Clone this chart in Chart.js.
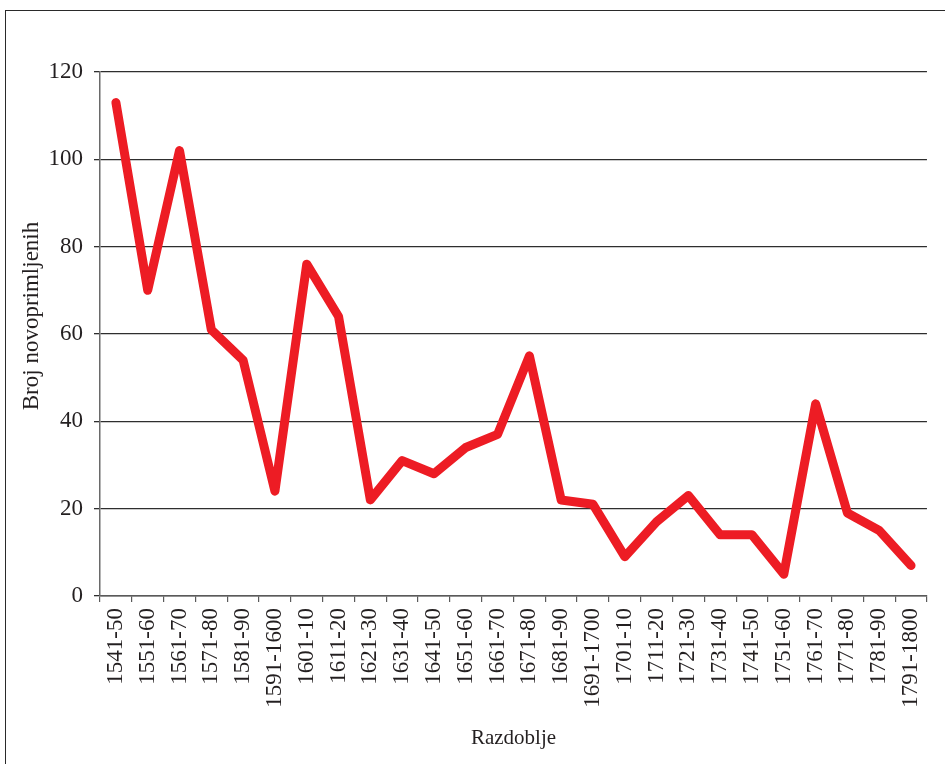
<!DOCTYPE html>
<html lang="hr">
<head>
<meta charset="utf-8">
<title>Broj novoprimljenih po razdobljima</title>
<script src="https://cdn.jsdelivr.net/npm/chart.js@4/dist/chart.umd.min.js"></script>
<style>
  html, body { margin: 0; padding: 0; background: #ffffff; overflow: hidden; }
  #wrap { position: relative; width: 945px; height: 764px; }
  #frame {
    position: absolute; left: 5px; top: 10px; width: 1000px; height: 1000px;
    border: 1.5px solid #2a2a2a; box-sizing: border-box; pointer-events: none;
  }
  canvas { position: absolute; left: 0; top: 0; }
</style>
</head>
<body>
<div id="wrap">
  <canvas id="chart" width="945" height="764"></canvas>
  <div id="frame"></div>
</div>
<script>
// Razdoblja (desetljeća)
const periods = [
  '1541-50', '1551-60', '1561-70', '1571-80', '1581-90', '1591-1600',
  '1601-10', '1611-20', '1621-30', '1631-40', '1641-50', '1651-60',
  '1661-70', '1671-80', '1681-90', '1691-1700', '1701-10', '1711-20',
  '1721-30', '1731-40', '1741-50', '1751-60', '1761-70', '1771-80',
  '1781-90', '1791-1800'
];

// Broj novoprimljenih u svakom razdoblju
const admitted = [
  113, 70, 102, 61, 54, 24,
  76, 64, 22, 31, 28, 34,
  37, 55, 22, 21, 9, 17,
  23, 14, 14, 5, 44, 19,
  15, 7
];

// Oznake osi
const yTicks = [0, 20, 40, 60, 80, 100, 120];
const yTitle = 'Broj novoprimljenih';
const xTitle = 'Razdoblje';

const serif = "'Liberation Serif', 'Times New Roman', serif";
const ink = '#231f20';

// Naslov okomite osi, malo iznad sredine osi
const yTitlePlugin = {
  id: 'yTitle',
  afterDraw(chart) {
    const s = chart.scales.y;
    const ctx = chart.ctx;
    ctx.save();
    ctx.translate(32, (s.top + s.bottom) / 2 - 18);
    ctx.rotate(-Math.PI / 2);
    ctx.font = `23px ${serif}`;
    ctx.fillStyle = ink;
    ctx.textAlign = 'center';
    ctx.textBaseline = 'middle';
    ctx.fillText(yTitle, 0, 0);
    ctx.restore();
  }
};

new Chart(document.getElementById('chart'), {
  type: 'line',
  data: {
    labels: periods,
    datasets: [{
      data: admitted,
      borderColor: '#ed1c24',
      backgroundColor: '#ed1c24',
      borderWidth: 9,
      borderJoinStyle: 'round',
      borderCapStyle: 'round',
      pointRadius: 0,
      pointHoverRadius: 0,
      tension: 0,
      fill: false
    }]
  },
  plugins: [yTitlePlugin],
  options: {
    responsive: false,
    devicePixelRatio: 1,
    animation: false,
    layout: { padding: { top: 72, right: 18, bottom: 0, left: 0 } },
    plugins: {
      legend: { display: false },
      tooltip: { enabled: false }
    },
    scales: {
      x: {
        offset: true,
        grid: {
          offset: true,
          drawOnChartArea: false,
          drawTicks: true,
          tickLength: 6,
          color: '#5a5a5a',
          lineWidth: 1.2
        },
        border: { display: true, color: '#5a5a5a', width: 1.5 },
        ticks: {
          autoSkip: false,
          minRotation: 90,
          maxRotation: 90,
          padding: 6,
          color: ink,
          font: { family: serif, size: 23 }
        },
        title: {
          display: true,
          text: xTitle,
          color: ink,
          font: { family: serif, size: 21 },
          padding: { top: 13, bottom: 13 }
        },
        afterFit(scale) { scale.height = 168; }
      },
      y: {
        min: 0,
        max: 120,
        afterBuildTicks(scale) { scale.ticks = yTicks.map(v => ({ value: v })); },
        grid: {
          drawOnChartArea: true,
          drawTicks: true,
          tickLength: 6,
          color: '#2e2e2e',
          lineWidth: 1.3
        },
        border: { display: true, color: '#6a6a6a', width: 1.5 },
        ticks: {
          padding: 11,
          color: ink,
          font: { family: serif, size: 23 }
        },
        title: { display: false },
        afterFit(scale) { scale.width = 100; }
      }
    }
  }
});
</script>
</body>
</html>
